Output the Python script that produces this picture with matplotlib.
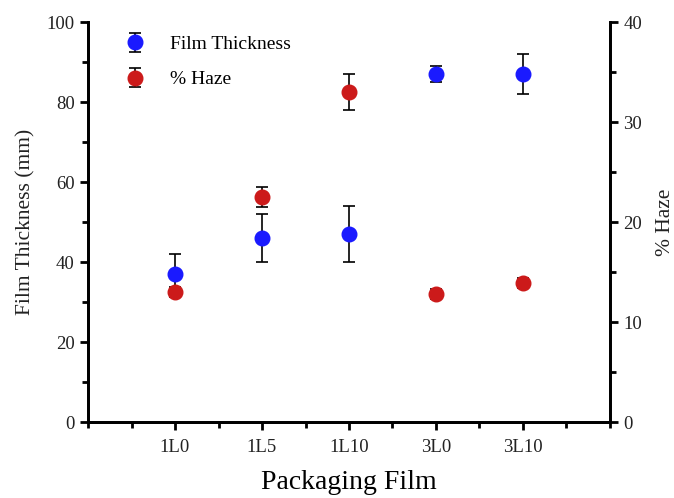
import matplotlib.pyplot as plt
from matplotlib.ticker import MultipleLocator

plt.rcParams['font.family'] = ['Liberation Serif', 'DejaVu Serif']

films = ['1L0', '1L5', '1L10', '3L0', '3L10']
thickness = [37, 46, 47, 87, 87]
thickness_err = [5, 6, 7, 2, 5]
haze = [13.0, 22.5, 33.0, 12.8, 13.9]
haze_err = [0.5, 1.0, 1.8, 0.5, 0.5]

x = list(range(1, len(films) + 1))

fig = plt.figure(figsize=(6.74, 4.98), dpi=100)
ax = fig.add_axes([0.1306, 0.1526, 0.7744, 0.803])
ax2 = ax.twinx()

h1 = ax.errorbar(x, thickness, yerr=thickness_err, fmt='o', color='#1a1aff',
                 markersize=10.5, ecolor='black', elinewidth=1.2, capsize=4,
                 capthick=1.2, label='Film Thickness', zorder=3)
h2 = ax2.errorbar(x, haze, yerr=haze_err, fmt='o', color='#cc1a1a',
                  markersize=10.5, ecolor='black', elinewidth=1.2, capsize=4,
                  capthick=1.2, label='% Haze', zorder=3)

ax.set_xlim(0, 6)
ax.set_ylim(0, 100)
ax2.set_ylim(0, 40)
ax.set_xticks(x)
ax.set_xticklabels(films)
ax.xaxis.set_minor_locator(MultipleLocator(0.5))
ax.yaxis.set_major_locator(MultipleLocator(20))
ax.yaxis.set_minor_locator(MultipleLocator(10))
ax2.yaxis.set_major_locator(MultipleLocator(10))
ax2.yaxis.set_minor_locator(MultipleLocator(5))

for a in (ax, ax2):
    a.spines['top'].set_visible(False)
    for s in ('left', 'right', 'bottom'):
        a.spines[s].set_linewidth(2)
    a.tick_params(which='major', direction='out', length=6, width=2,
                  labelsize=13.5, colors='black', labelcolor='#222222')
    a.tick_params(which='minor', direction='out', length=4, width=2)

ax.tick_params(axis='x', pad=6)
ax.set_xlabel('Packaging Film', fontsize=20, labelpad=10)
ax.set_ylabel('Film Thickness (mm)', fontsize=15.5, color='#222222', labelpad=8)
ax2.set_ylabel('% Haze', fontsize=15.5, color='#222222', labelpad=10)

ax.legend([h1, h2], ['Film Thickness', '% Haze'], loc='upper left',
          bbox_to_anchor=(0.02, 1.01), frameon=False, fontsize=14,
          handletextpad=0.8, labelspacing=0.9)

fig.savefig('out.png', dpi=100)
